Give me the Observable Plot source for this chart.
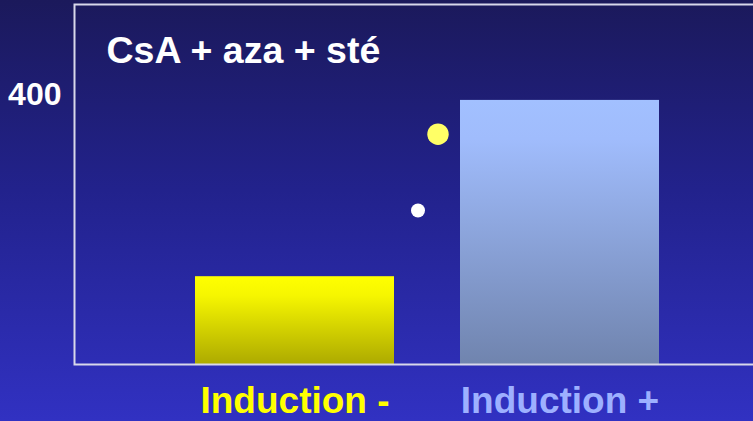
<!DOCTYPE html>
<html><head><meta charset="utf-8">
<script src="https://cdn.jsdelivr.net/npm/d3@7"></script>
<script src="https://cdn.jsdelivr.net/npm/@observablehq/plot@0.6"></script>
<style>
html,body{margin:0;padding:0;overflow:hidden;width:753px;height:421px;background:#25259a;}
#chart{width:760px;}
#chart svg{display:block;max-width:none !important;}
</style>
</head><body><div id="chart"></div>
<script>
// ---- data ----
const categories = ["Induction -", "Induction +"];
const barValues = [130, 391];
const labelColors = ["#ffff00", "#9db0ff"];
const markerCategory = ["Induction +", "Induction +"];
const markerValues = [341, 228];
const yTicks = [400];
const titleText = "CsA + aza + sté";

const bars = categories.map((c, i) => ({category: c, value: barValues[i], grad: i === 0 ? "gradYellow" : "gradBlue"}));
const markers = markerValues.map((v, i) => ({category: markerCategory[i], value: v}));

const font = "'Liberation Sans', Arial, Helvetica, sans-serif";

const plot = Plot.plot({
  width: 756,
  height: 421,
  marginLeft: 74,
  marginRight: 0,
  marginTop: 4,
  marginBottom: 57,
  style: {
    background: "linear-gradient(to bottom, #1b195b 0%, #22228c 45%, #3131c2 100%)",
    fontFamily: font,
    overflow: "visible",
    maxWidth: "none"
  },
  x: {domain: categories, range: [194, 660], paddingInner: 0.248, paddingOuter: 0, axis: null},
  y: {domain: [0, 533]},
  color: {type: "identity"},
  marks: [
    Plot.barY(bars, {x: "category", y: "value", fill: d => `url(#${d.grad})`}),
    Plot.frame({stroke: "#d8d8ea", strokeWidth: 2}),
    Plot.dot([markers[0]], {x: "category", y: "value", r: 10.7, fill: "#ffff66", stroke: "none", dx: -122}),
    Plot.dot([markers[1]], {x: "category", y: "value", r: 7, fill: "#ffffff", stroke: "none", dx: -142}),
    Plot.axisY({ticks: yTicks, tickSize: 0, tickPadding: 13, fontSize: 32, fontWeight: "bold", fill: "#ffffff", label: null}),
    Plot.text(categories, {x: d => d, fill: (d, i) => labelColors[i], frameAnchor: "bottom", lineAnchor: "top", dy: 22.5, fontSize: 37, fontWeight: "bold", textAnchor: "middle"}),
    Plot.text([titleText], {frameAnchor: "top-left", textAnchor: "start", lineAnchor: "top", dx: 32, dy: 31.5, fontSize: 37.5, fontWeight: "bold", fill: "#ffffff"})
  ]
});

const svg = d3.select(plot);
const defs = svg.insert("defs", ":first-child");
const gy = defs.append("linearGradient").attr("id", "gradYellow").attr("x1", 0).attr("y1", 0).attr("x2", 0).attr("y2", 1);
gy.append("stop").attr("offset", "0%").attr("stop-color", "#ffff00");
gy.append("stop").attr("offset", "22%").attr("stop-color", "#f6f600");
gy.append("stop").attr("offset", "100%").attr("stop-color", "#adaa00");
const gb = defs.append("linearGradient").attr("id", "gradBlue").attr("x1", 0).attr("y1", 0).attr("x2", 0).attr("y2", 1);
gb.append("stop").attr("offset", "0%").attr("stop-color", "#a2c0ff");
gb.append("stop").attr("offset", "15%").attr("stop-color", "#a0bcfc");
gb.append("stop").attr("offset", "100%").attr("stop-color", "#7084ae");

document.getElementById("chart").appendChild(plot);
</script>
</body></html>
